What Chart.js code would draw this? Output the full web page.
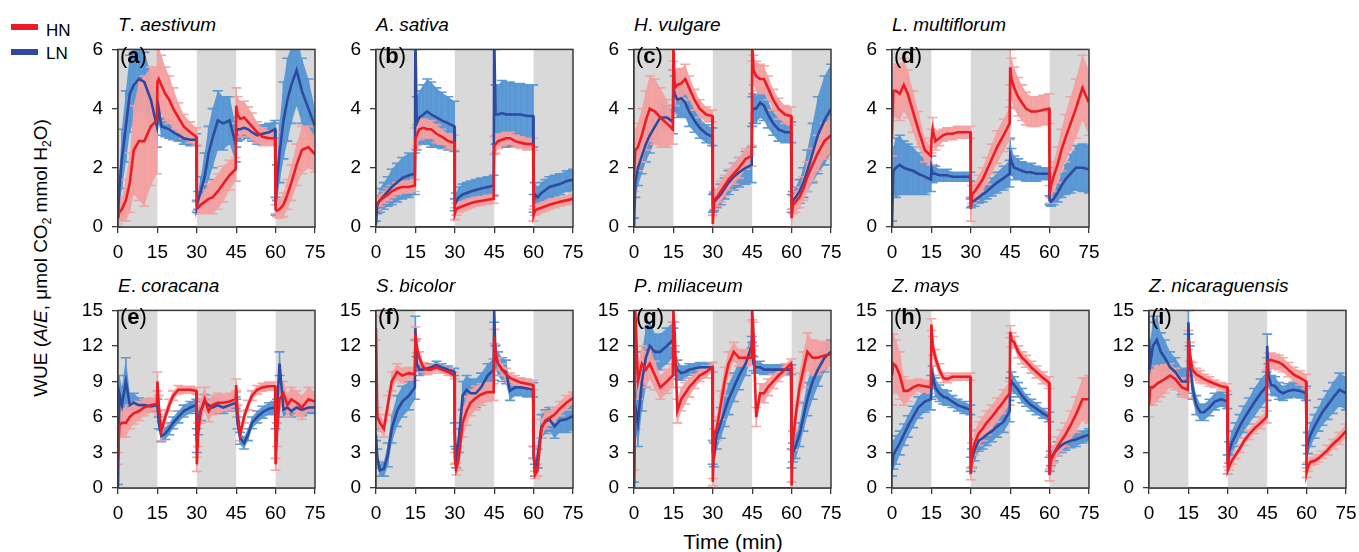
<!DOCTYPE html>
<html><head><meta charset="utf-8">
<script src="https://cdn.jsdelivr.net/npm/chart.js@4.4.0/dist/chart.umd.min.js"></script>
<style>
body{margin:0;background:#fff;}
#wrap{position:relative;width:1359px;height:552px;overflow:hidden;font-family:"Liberation Sans",Arial,sans-serif;color:#000;}
#wrap canvas{position:absolute;}
.title{position:absolute;font-size:19px;white-space:nowrap;line-height:1;}
.title i{font-style:italic;}
.plab{position:absolute;font-size:22px;line-height:1;white-space:nowrap;}
.plab b{font-weight:bold;}
.leg{position:absolute;font-size:17px;line-height:1;}
.legline{position:absolute;height:6px;width:27px;}
#ytitle{position:absolute;left:42px;top:258px;transform:translate(-50%,-50%) rotate(-90deg);font-size:19px;white-space:nowrap;line-height:1;}
#xtitle{position:absolute;left:733px;top:541px;transform:translate(-50%,-50%);font-size:21px;white-space:nowrap;line-height:1;}
</style></head>
<body><div id="wrap">
<div class="legline" style="left:11px;top:24px;background:#ed1c24"></div><div class="leg" style="left:46px;top:22px">HN</div>
<div class="legline" style="left:11px;top:49px;background:#2e4a9e"></div><div class="leg" style="left:46px;top:45px">LN</div>
<div id="ytitle">WUE (<i>A</i>/<i>E</i>, μmol CO<sub style="font-size:12px">2</sub> mmol H<sub style="font-size:12px">2</sub>O)</div>
<div id="xtitle">Time (min)</div>
</div>
<script>
// ---- data ----
const times = [0,0.5,1.5,3,4.5,6,8,10,12.5,14.8, 15,15.5,16.5,18,19.5,21,23,25,27.5,29.8, 30,30.5,31.5,33,34.5,36,38,40,42.5,44.8, 45,45.5,46.5,48,49.5,51,53,55,57.5,59.8, 60,60.5,61.5,63,64.5,66,68,70,72.5,75];
const shadedRanges = [[0,15],[30,45],[60,75]];
const xTicks = [0,15,30,45,60,75];

const hnA = [0.3,0.5,0.6,0.9,1.5,2.6,2.9,2.9,3.4,3.6, 4.9,5.0,4.8,4.5,4.3,4.0,3.7,3.4,3.2,3.05, 0.7,0.65,0.75,0.85,0.95,1.0,1.2,1.45,1.75,1.95, 4.1,3.8,3.65,3.7,3.55,3.4,3.2,3.05,3.0,3.0, 0.6,0.55,0.6,0.75,1.1,1.5,2.1,2.6,2.7,2.45];
const hnErrA = [0.2,0.3,0.4,0.7,1.0,1.5,2.0,2.2,2.0,1.8, 1.2,1.1,1.0,0.9,0.8,0.7,0.5,0.4,0.35,0.3, 0.15,0.2,0.3,0.4,0.5,0.55,0.6,0.6,0.5,0.4, 0.6,0.6,0.6,0.55,0.5,0.45,0.35,0.3,0.25,0.2, 0.15,0.2,0.3,0.4,0.5,0.6,0.7,0.8,0.7,0.6];
const lnA = [0.3,1.3,2.3,3.4,4.5,4.8,5.0,4.9,4.3,3.4, 3.6,4.0,3.4,3.35,3.3,3.2,3.1,3.0,2.95,2.95, 0.7,0.9,1.2,1.7,2.5,3.0,3.6,3.5,3.6,2.8, 3.2,3.3,3.3,3.35,3.3,3.2,3.1,3.15,3.2,3.3, 0.7,1.5,2.5,3.6,4.3,4.8,5.3,4.6,4.0,3.4];
const lnErrA = [0.3,0.6,1.0,1.2,1.3,1.2,1.0,1.0,0.9,0.7, 0.5,0.5,0.3,0.3,0.3,0.25,0.2,0.2,0.2,0.2, 0.2,0.3,0.5,0.8,0.9,1.0,1.0,0.9,0.8,0.6, 0.5,0.4,0.35,0.3,0.3,0.3,0.3,0.3,0.3,0.3, 0.3,0.6,1.0,1.3,1.4,1.3,1.2,1.1,1.0,0.6];

const hnB = [0.7,0.8,0.9,1.0,1.1,1.2,1.3,1.35,1.35,1.4, 3.0,3.1,3.3,3.35,3.3,3.3,3.15,3.05,2.9,2.85, 0.45,0.6,0.65,0.7,0.75,0.8,0.85,0.88,0.92,0.95, 2.75,2.8,2.9,2.95,3.0,3.0,2.9,2.85,2.8,2.8, 0.4,0.55,0.6,0.65,0.7,0.75,0.8,0.85,0.9,0.95];
const hnErrB = [0.15,0.2,0.2,0.2,0.2,0.2,0.2,0.2,0.2,0.2, 0.35,0.35,0.35,0.3,0.3,0.3,0.3,0.25,0.25,0.25, 0.2,0.2,0.15,0.15,0.15,0.15,0.15,0.15,0.15,0.15, 0.3,0.3,0.25,0.2,0.2,0.2,0.2,0.2,0.2,0.2, 0.2,0.15,0.15,0.15,0.15,0.15,0.15,0.15,0.15,0.15];
const lnB = [0.1,0.75,0.9,1.05,1.2,1.35,1.5,1.65,1.75,1.8, 6.5,3.5,3.7,3.8,3.9,3.8,3.7,3.6,3.5,3.4, 0.75,0.85,1.0,1.1,1.15,1.2,1.25,1.3,1.35,1.4, 6.5,3.8,3.8,3.85,3.8,3.8,3.8,3.8,3.75,3.75, 0.8,1.1,1.0,1.15,1.25,1.35,1.4,1.45,1.55,1.6];
const lnErrB = [0.1,0.3,0.4,0.45,0.5,0.6,0.65,0.7,0.75,0.7, 0.5,0.9,0.9,1.0,1.1,1.1,1.0,0.95,0.9,0.85, 0.2,0.3,0.35,0.35,0.35,0.35,0.35,0.35,0.35,0.35, 0.5,1.0,1.0,1.1,1.1,1.1,1.05,1.05,1.05,1.05, 0.3,0.4,0.35,0.35,0.35,0.35,0.35,0.35,0.35,0.35];

const hnC = [1.7,2.6,2.7,3.1,3.6,4.0,3.9,3.7,3.5,3.3, 6.2,4.7,4.8,4.85,5.0,4.7,4.3,4.0,3.8,3.75, 0.1,0.9,1.0,1.2,1.4,1.6,1.8,2.0,2.3,2.4, 6.2,5.3,5.1,5.0,5.0,4.7,4.3,4.0,3.8,3.75, 0.3,0.75,0.85,1.0,1.3,1.7,2.1,2.5,2.9,3.1];
const hnErrC = [0.5,0.7,0.8,0.9,1.0,1.1,1.1,1.0,0.8,0.5, 0.6,0.6,0.5,0.5,0.5,0.4,0.35,0.3,0.25,0.2, 0.3,0.3,0.3,0.35,0.35,0.35,0.35,0.35,0.35,0.35, 0.6,0.5,0.5,0.5,0.45,0.4,0.35,0.35,0.3,0.3, 0.3,0.3,0.35,0.35,0.4,0.5,0.55,0.6,0.6,0.6];
const lnC = [0,1.5,2.0,2.4,2.8,3.1,3.4,3.7,3.7,3.55, 4.7,4.5,4.3,4.35,4.2,3.9,3.6,3.35,3.15,3.05, 0.8,0.85,0.95,1.1,1.3,1.5,1.7,1.85,2.0,2.1, 3.9,4.0,4.0,4.2,4.1,3.8,3.5,3.3,3.2,3.2, 0.8,0.9,1.0,1.2,1.5,1.9,2.5,3.1,3.6,4.0];
const lnErrC = [0.3,0.5,0.6,0.6,0.6,0.6,0.5,0.5,0.4,0.4, 0.6,0.6,0.6,0.6,0.5,0.5,0.4,0.35,0.3,0.3, 0.3,0.3,0.3,0.35,0.35,0.4,0.45,0.5,0.55,0.6, 0.5,0.5,0.5,0.5,0.5,0.45,0.4,0.4,0.35,0.35, 0.3,0.3,0.35,0.4,0.5,0.7,1.0,1.3,1.5,1.5];

const hnD = [3.0,4.6,4.6,4.5,4.8,4.5,3.9,3.3,2.6,2.4, 2.9,3.3,2.9,3.0,3.1,3.15,3.15,3.2,3.2,3.2, 0.6,1.1,1.2,1.4,1.6,1.9,2.3,2.7,3.1,3.5, 5.4,5.0,4.7,4.4,4.2,4.0,3.9,3.9,3.95,4.0, 1.1,1.4,1.7,2.1,2.6,3.0,3.5,4.0,4.7,4.2];
const hnErrD = [0.6,0.8,0.9,0.9,0.9,0.8,0.7,0.6,0.4,0.3, 0.4,0.4,0.3,0.25,0.2,0.2,0.2,0.2,0.2,0.2, 0.4,0.3,0.3,0.35,0.4,0.45,0.5,0.55,0.55,0.55, 0.6,0.7,0.7,0.65,0.6,0.55,0.5,0.5,0.5,0.5, 0.3,0.4,0.5,0.6,0.7,0.8,0.9,1.0,1.1,1.1];
const lnD = [0,1.9,2.0,2.1,2.0,1.95,1.9,1.8,1.7,1.6, 2.0,1.8,1.8,1.75,1.75,1.75,1.7,1.7,1.7,1.7, 0.8,0.85,0.9,1.0,1.1,1.2,1.35,1.5,1.65,1.8, 2.4,2.2,2.0,1.95,1.9,1.85,1.85,1.8,1.8,1.8, 0.9,0.85,0.95,1.15,1.4,1.6,1.8,2.0,2.0,1.95];
const lnErrD = [0.2,0.8,1.0,1.0,0.9,0.85,0.8,0.7,0.6,0.4, 0.4,0.3,0.25,0.2,0.2,0.2,0.15,0.15,0.15,0.15, 0.15,0.15,0.2,0.2,0.25,0.25,0.3,0.35,0.4,0.45, 0.6,0.45,0.4,0.35,0.3,0.3,0.3,0.25,0.2,0.2, 0.15,0.15,0.2,0.3,0.4,0.5,0.65,0.75,0.8,0.8];

const hnE = [2.5,5.3,5.5,5.5,6.0,6.3,6.5,6.8,7.0,7.1, 9.0,7.0,4.8,6.0,7.0,7.8,8.3,8.3,8.3,8.2, 2.0,4.5,6.5,7.5,6.5,7.0,7.2,7.2,7.3,7.5, 8.7,6.5,4.5,6.0,7.0,7.8,8.3,8.5,8.6,8.6, 2.0,4.5,7.5,8.0,7.0,7.5,7.2,6.8,7.5,7.3];
const hnErrE = [0.5,1.0,1.2,1.2,1.0,0.9,0.8,0.7,0.6,0.5, 0.8,0.8,0.8,0.6,0.5,0.4,0.35,0.3,0.3,0.3, 0.6,1.0,1.0,1.0,0.9,0.8,0.8,0.7,0.7,0.6, 0.5,0.5,0.5,0.5,0.4,0.4,0.35,0.35,0.35,0.35, 0.5,1.0,1.0,1.0,1.0,1.0,1.0,1.0,1.0,0.8];
const lnE = [0,8.0,7.0,9.0,7.0,7.2,7.0,7.0,6.9,7.0, 7.0,5.5,4.4,4.6,5.0,5.5,6.0,6.5,6.8,7.0, 4.0,5.5,6.5,7.3,7.0,6.8,7.0,6.8,7.0,7.2, 7.0,5.5,4.2,3.8,4.5,5.5,6.0,6.4,6.7,6.8, 6.0,6.5,10.5,6.6,6.8,6.5,6.8,6.6,6.8,6.8];
const lnErrE = [0.3,1.5,1.5,2.0,1.0,0.8,0.6,0.5,0.5,0.5, 0.5,0.5,0.5,0.5,0.5,0.5,0.5,0.5,0.5,0.5, 1.0,1.0,0.8,0.6,0.5,0.5,0.5,0.5,0.5,0.5, 0.5,0.5,0.5,0.5,0.5,0.5,0.5,0.5,0.5,0.5, 1.0,1.0,1.0,0.6,0.5,0.5,0.5,0.5,0.5,0.5];

const hnF = [13.5,6.0,5.5,5.0,7.0,9.0,9.8,9.5,9.7,9.6, 13.0,12.0,11.0,10.2,10.0,10.0,10.2,10.0,9.8,9.5, 2.5,1.6,2.5,5.5,6.5,7.2,7.6,7.9,8.1,8.1, 12.8,11.5,10.5,10.0,9.6,9.3,9.1,8.9,8.8,8.7, 3.0,1.1,1.5,5.0,5.7,5.9,6.2,6.7,7.2,7.6];
const hnErrF = [1.0,0.8,0.7,0.7,0.8,0.8,0.7,0.6,0.5,0.5, 0.6,0.6,0.5,0.4,0.4,0.3,0.3,0.3,0.3,0.3, 0.5,0.5,1.0,1.2,1.2,1.1,1.0,0.9,0.8,0.7, 0.6,0.6,0.5,0.5,0.5,0.4,0.4,0.4,0.4,0.4, 0.5,0.3,0.5,0.8,0.7,0.6,0.6,0.6,0.6,0.5];
const lnF = [4.5,2.5,1.5,1.6,2.8,5.0,6.5,7.3,7.8,8.5, 13.5,10.5,10.0,10.0,10.1,10.2,10.4,10.2,10.0,9.8, 4.5,2.5,4.0,7.8,8.3,8.0,8.0,8.5,9.5,10.0, 15.0,11.0,10.5,10.0,9.8,8.2,8.5,8.5,8.4,8.3, 3.0,1.5,2.5,5.2,5.6,5.8,5.2,5.7,5.8,6.1];
const lnErrF = [0.5,0.8,0.5,0.6,1.0,1.2,1.3,1.3,1.2,1.0, 1.0,0.6,0.5,0.4,0.4,0.3,0.3,0.3,0.3,0.3, 1.0,0.8,1.0,1.2,1.2,1.2,1.2,1.2,1.0,0.9, 1.0,1.0,1.0,1.0,1.0,0.8,0.7,0.7,0.7,0.6, 0.5,0.5,0.8,1.0,1.0,1.0,1.0,1.0,1.1,1.2];

const hnG = [0.5,15,9.0,10.5,10.0,10.5,9.5,8.5,9.0,9.5, 15,13,6.5,7.5,8.0,8.5,9.0,9.5,9.8,10.2, 0.5,4.5,5.0,7.0,9.0,10.5,11.5,11.0,11.0,11.0, 15,13,6.0,8.0,8.0,8.5,9.0,9.5,10.0,10.5, 0.2,4.0,6.0,8.5,10.0,11.5,11.0,11.0,11.2,11.3];
const hnErrG = [1.0,1.0,1.5,1.5,1.5,1.3,1.2,1.0,1.0,1.0, 1.0,1.0,1.0,1.0,0.9,0.8,0.6,0.5,0.5,0.4, 0.3,0.5,1.0,1.2,1.2,1.0,0.8,0.7,0.7,0.6, 0.8,1.0,0.8,0.8,0.8,0.7,0.6,0.5,0.5,0.4, 0.3,0.8,1.0,1.2,1.5,1.6,1.5,1.4,1.2,1.0];
const lnG = [0,7.0,5.5,9.0,11.0,12.0,11.5,11.5,12.0,12.5, 12.0,10.5,10.0,9.7,9.8,10.0,10.1,10.2,10.2,10.2, 3.0,2.8,4.5,5.5,6.5,7.5,8.5,9.5,10.5,12.0, 11.5,10.5,10.2,10.2,10.0,10.0,10.0,10.0,10.0,10.0, 2.5,3.0,3.5,4.5,6.0,7.5,9.0,10.0,11.0,11.5];
const lnErrG = [0.5,2.0,2.0,2.5,2.5,2.0,1.5,1.5,1.5,1.5, 1.5,1.0,0.8,0.6,0.5,0.5,0.4,0.4,0.4,0.4, 1.0,1.0,1.2,1.3,1.3,1.3,1.2,1.2,1.0,0.8, 0.8,0.6,0.5,0.5,0.4,0.4,0.4,0.4,0.4,0.4, 0.8,0.8,1.0,1.0,1.2,1.4,1.5,1.4,1.2,1.0];

const hnH = [9.5,10.5,10.3,9.5,8.2,8.2,8.5,8.7,8.6,8.5, 13.8,12.0,11.0,10.0,9.3,9.2,9.4,9.4,9.4,9.4, 1.2,2.8,3.8,4.6,5.0,5.5,6.0,6.6,7.3,8.0, 13.2,12.5,12.3,11.5,11.0,10.7,10.2,9.8,9.3,8.9, 1.1,2.3,2.8,3.5,4.0,4.5,5.3,6.2,7.5,7.5];
const hnErrH = [2.5,2.5,2.2,2.0,1.2,0.9,0.6,0.5,0.5,0.5, 0.5,0.8,0.7,0.5,0.4,0.3,0.3,0.3,0.3,0.3, 0.5,1.0,1.0,1.0,1.0,1.0,1.0,1.0,1.0,1.0, 0.5,0.6,0.5,0.5,0.5,0.5,0.5,0.5,0.5,0.5, 0.5,0.5,0.7,0.8,0.9,1.0,1.2,1.5,1.8,2.0];
const lnH = [1.5,2.8,3.2,3.8,4.5,5.2,6.0,6.8,7.3,7.5, 8.5,9.5,8.5,8.0,7.7,7.6,7.3,7.0,6.8,6.6, 2.0,2.5,3.2,4.0,4.2,4.5,4.8,5.2,5.6,6.5, 8.5,9.0,8.7,8.3,7.8,7.4,7.0,6.7,6.3,6.0, 2.0,2.5,2.9,3.3,3.6,3.8,4.0,4.1,4.3,4.5];
const lnErrH = [0.5,1.2,1.2,1.0,0.9,0.9,0.9,0.9,0.9,0.9, 1.0,0.8,0.8,0.7,0.6,0.6,0.5,0.5,0.5,0.4, 0.6,0.8,0.9,0.9,0.9,0.9,0.9,0.9,0.9,0.9, 0.8,0.8,0.7,0.6,0.6,0.5,0.5,0.5,0.4,0.4, 0.6,0.6,0.6,0.6,0.6,0.6,0.6,0.6,0.5,0.5];

const hnI = [7.0,8.5,8.5,8.8,9.0,9.2,9.5,9.2,8.5,8.3, 12.5,11.5,10.0,9.6,9.4,9.2,9.0,8.8,8.6,8.5, 1.5,1.8,2.3,2.8,3.3,3.9,4.5,5.0,5.5,6.0, 10.5,10.8,10.8,10.7,10.6,10.4,10.0,9.6,9.3,9.0, 1.3,1.8,2.2,2.3,2.5,2.8,3.2,3.7,4.2,4.8];
const hnErrI = [1.0,1.5,1.5,1.5,1.3,1.2,1.0,0.9,0.8,0.7, 0.8,0.8,0.6,0.5,0.5,0.4,0.4,0.3,0.3,0.3, 0.3,0.3,0.3,0.3,0.3,0.3,0.4,0.4,0.5,0.5, 0.5,0.6,0.6,0.6,0.6,0.6,0.6,0.6,0.6,0.6, 0.4,0.4,0.3,0.3,0.3,0.3,0.4,0.4,0.5,0.6];
const lnI = [12.5,10.5,12.0,12.5,11.5,11.0,10.2,9.8,9.0,9.0, 14.0,11.0,8.5,7.0,6.4,6.4,6.8,7.3,7.5,7.3, 2.0,3.0,3.8,4.5,5.2,5.8,6.5,7.2,8.0,8.6, 12.0,9.5,8.7,8.6,8.2,8.0,8.2,8.3,8.2,8.0, 2.8,3.8,4.5,5.2,5.8,6.4,7.0,7.6,8.3,8.0];
const lnErrI = [2.0,2.0,2.0,2.0,1.6,1.5,1.3,1.2,1.1,1.0, 1.0,1.0,1.0,0.8,0.7,0.7,0.7,0.7,0.6,0.6, 0.8,0.9,1.0,1.0,1.0,1.1,1.1,1.2,1.2,1.2, 1.0,1.0,0.8,0.8,0.7,0.6,0.6,0.6,0.6,0.6, 0.8,0.9,1.0,1.0,1.0,1.1,1.2,1.3,1.4,1.4];

// ---- layout / style ----
const HN = '#ed1c24', LN = '#2e4a9e', HNband = 'rgba(244,160,160,0.92)', LNband = 'rgba(86,150,212,0.95)';
const panels = [
  {k:'a', g:'T', s:'aestivum', hn:hnA, he:hnErrA, ln:lnA, le:lnErrA, ymax:6, step:2, left:118, top:41},
  {k:'b', g:'A', s:'sativa', hn:hnB, he:hnErrB, ln:lnB, le:lnErrB, ymax:6, step:2, left:376, top:41},
  {k:'c', g:'H', s:'vulgare', hn:hnC, he:hnErrC, ln:lnC, le:lnErrC, ymax:6, step:2, left:634, top:41},
  {k:'d', g:'L', s:'multiflorum', hn:hnD, he:hnErrD, ln:lnD, le:lnErrD, ymax:6, step:2, left:892, top:41},
  {k:'e', g:'E', s:'coracana', hn:hnE, he:hnErrE, ln:lnE, le:lnErrE, ymax:15, step:3, left:118, top:302},
  {k:'f', g:'S', s:'bicolor', hn:hnF, he:hnErrF, ln:lnF, le:lnErrF, ymax:15, step:3, left:376, top:302},
  {k:'g', g:'P', s:'miliaceum', hn:hnG, he:hnErrG, ln:lnG, le:lnErrG, ymax:15, step:3, left:634, top:302},
  {k:'h', g:'Z', s:'mays', hn:hnH, he:hnErrH, ln:lnH, le:lnErrH, ymax:15, step:3, left:892, top:302},
  {k:'i', g:'Z', s:'nicaraguensis', hn:hnI, he:hnErrI, ln:lnI, le:lnErrI, ymax:15, step:3, left:1149, top:302}
];
const PW = 197, PH = 186, YW = 44, XH = 40, PT = 12, PR = 22;

const shadePlugin = {
  id:'shade',
  beforeDatasetsDraw(chart){
    const {ctx, chartArea:ca, scales:{x}} = chart;
    ctx.save(); ctx.fillStyle = '#d9d9d9';
    for (const [s,e] of shadedRanges){
      const x0 = x.getPixelForValue(s), x1 = x.getPixelForValue(e);
      ctx.fillRect(x0, ca.top, x1-x0, ca.bottom-ca.top);
    }
    ctx.restore();
  },
  afterDatasetDraw(chart, args){
    if (args.index !== 2 && args.index !== 4) return;
    const up = chart.getDatasetMeta(args.index).data, lo = chart.getDatasetMeta(args.index+1).data;
    const ctx = chart.ctx, ca = chart.chartArea;
    ctx.save();
    ctx.beginPath(); ctx.rect(ca.left, ca.top, ca.right-ca.left, ca.bottom-ca.top); ctx.clip();
    ctx.strokeStyle = chart.data.datasets[args.index].backgroundColor; ctx.lineWidth = 1.6;
    ctx.beginPath();
    for (let i=0;i<up.length;i++){
      for (const p of [up[i], lo[i]]){ ctx.moveTo(p.x-5, p.y); ctx.lineTo(p.x+5, p.y); }
      ctx.moveTo(up[i].x, up[i].y); ctx.lineTo(lo[i].x, lo[i].y);
    }
    ctx.stroke(); ctx.restore();
  },
  afterDatasetsDraw(chart){
    const {ctx, chartArea:ca} = chart;
    ctx.save(); ctx.strokeStyle = '#3a3a3a'; ctx.lineWidth = 1.5;
    ctx.strokeRect(ca.left, ca.top, ca.right-ca.left, ca.bottom-ca.top);
    ctx.restore();
  }
};

const wrap = document.getElementById('wrap');
const tickFont = {family:'"Liberation Sans", Arial, sans-serif', size:19};

panels.forEach(p => {
  const t = document.createElement('div'); t.className='title';
  t.style.left = p.left+'px'; t.style.top = (p.top-26)+'px';
  t.innerHTML = '<i>'+p.g+'</i>. <i>'+p.s+'</i>';
  wrap.appendChild(t);

  const cv = document.createElement('canvas');
  const W = YW+PW+PR, H = PT+PH+XH;
  cv.width = W; cv.height = H; cv.style.width = W+'px'; cv.style.height = H+'px';
  cv.style.left = (p.left-YW)+'px'; cv.style.top = (p.top-PT)+'px';
  wrap.appendChild(cv);

  const lab = document.createElement('div'); lab.className='plab';
  lab.style.left = (p.left+2)+'px'; lab.style.top = (p.top+4)+'px';
  lab.innerHTML = '(<b>'+p.k+'</b>)';
  wrap.appendChild(lab);

  const pts = (arr, err, sign) => times.map((tt,i) => ({x:tt, y: arr[i] + sign*(err ? err[i] : 0)}));
  new Chart(cv, {
    type:'line',
    data:{datasets:[
      {data:pts(p.hn,null,0), borderColor:HN, borderWidth:2.6, pointRadius:0, fill:false, order:0},
      {data:pts(p.ln,null,0), borderColor:LN, borderWidth:2.6, pointRadius:0, fill:false, order:1},
      {data:pts(p.hn,p.he,1), borderColor:'transparent', borderWidth:0, backgroundColor:HNband, pointRadius:0, fill:'+1', order:2},
      {data:pts(p.hn,p.he,-1), borderColor:'transparent', borderWidth:0, pointRadius:0, fill:false, order:2},
      {data:pts(p.ln,p.le,1), borderColor:'transparent', borderWidth:0, backgroundColor:LNband, pointRadius:0, fill:'+1', order:3},
      {data:pts(p.ln,p.le,-1), borderColor:'transparent', borderWidth:0, pointRadius:0, fill:false, order:3}
    ]},
    options:{
      responsive:false, animation:false, events:[],
      layout:{padding:{top:PT, right:PR, left:0, bottom:0}},
      plugins:{legend:{display:false}, tooltip:{enabled:false}},
      scales:{
        x:{type:'linear', min:0, max:75, afterFit(a){a.height = XH;},
           afterBuildTicks(a){a.ticks = xTicks.map(v=>({value:v}));},
           ticks:{font:tickFont, color:'#000', padding:8, maxRotation:0, autoSkip:false},
           grid:{drawOnChartArea:false, tickLength:6, color:'#3a3a3a', lineWidth:1.3},
           border:{color:'#3a3a3a', width:1.5}},
        y:{min:0, max:p.ymax, afterFit(a){a.width = YW;},
           ticks:{stepSize:p.step, font:tickFont, color:'#000', padding:9},
           grid:{drawOnChartArea:false, tickLength:6, color:'#3a3a3a', lineWidth:1.3},
           border:{color:'#3a3a3a', width:1.5}}
      }
    },
    plugins:[shadePlugin]
  });
});
</script>
</body></html>
